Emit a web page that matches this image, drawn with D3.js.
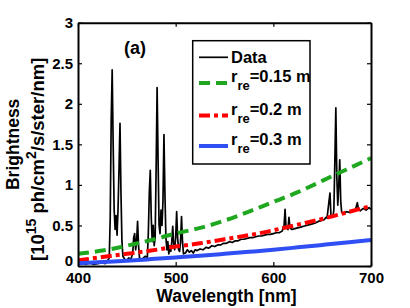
<!DOCTYPE html>
<html>
<head>
<meta charset="utf-8">
<script src="https://cdn.jsdelivr.net/npm/d3@7"></script>
<style>
  body { margin: 0; background: #fff; }
  svg { font-family: "Liberation Sans", Arial, sans-serif; font-weight: bold; }
</style>
</head>
<body>
<div id="chart"></div>
<script>
// measured spectrum (wavelength nm, brightness 1e15 ph/cm^2/s/ster/nm)
const dataWl = [400,404,408,412,416,420,424,428,430,432,433,434,435,436,437,438,439,440,441,442,443,444,445,446,448,450,452,454,456,457,458,459,460,461,462,463,465,467,469,471,472,473,474,475,476,477,478,479,480,481,482,483,484,485,486,487,488,489,490,491,492,493,494,495,496,497,498,499,500,501,502,503,504,505,506,507,508,510,512,514,516,518,520,522,525,528,531,534,537,540,543,546,549,552,555,558,561,564,567,570,573,576,579,582,585,588,591,594,597,600,603,606,609,611,612,613,615,616,617,619,622,625,628,631,634,637,640,643,646,649,652,654,655,657,658,659,661,662,663,664,665,666,667,668,669,670,672,675,678,681,684,686,687,689,692,695,698,700];
const dataVal = [0.02,0.03,0.02,0.04,0.02,0.03,0.04,0.03,0.06,0.1,0.6,1.8,2.42,1.5,0.7,0.45,0.62,0.38,0.7,1.2,1.76,0.9,0.3,0.12,0.08,0.07,0.1,0.08,0.15,0.35,0.4,0.2,0.3,0.55,0.25,0.1,0.08,0.1,0.12,0.1,0.4,0.9,1.18,0.6,0.3,0.5,0.25,0.35,1.2,2.2,1.3,0.5,0.4,0.69,0.5,0.8,1.62,0.9,0.35,0.2,0.3,0.15,0.25,0.18,0.3,0.49,0.25,0.2,0.35,0.67,0.35,0.2,0.18,0.3,0.61,0.3,0.15,0.16,0.2,0.17,0.19,0.16,0.2,0.19,0.21,0.2,0.23,0.22,0.25,0.24,0.26,0.26,0.28,0.28,0.3,0.29,0.31,0.31,0.33,0.33,0.34,0.35,0.35,0.36,0.37,0.37,0.38,0.39,0.39,0.4,0.41,0.41,0.43,0.5,0.7,0.48,0.45,0.6,0.47,0.45,0.46,0.47,0.48,0.49,0.5,0.51,0.52,0.53,0.55,0.56,0.57,0.6,0.59,0.8,0.9,0.62,0.6,0.7,1.3,1.95,1.1,0.75,1.0,1.31,0.8,0.66,0.65,0.67,0.66,0.69,0.69,0.78,0.71,0.68,0.71,0.69,0.72,0.7];

// model curves
const modelWl = [400,425,450,475,500,525,550,575,600,625,650,675,700];
const r015 = [0.15,0.19,0.25,0.32,0.40,0.47,0.56,0.67,0.79,0.91,1.05,1.19,1.33];
const r02  = [0.07,0.11,0.15,0.19,0.24,0.28,0.33,0.38,0.44,0.51,0.58,0.66,0.74];
const r03  = [0.035,0.05,0.065,0.085,0.105,0.125,0.15,0.175,0.2,0.23,0.26,0.29,0.32];

const xTicks = [400, 500, 600, 700];
const yTicks = [0, 0.5, 1, 1.5, 2, 2.5, 3];

const series = [
  { name: '0.15 m', values: r015, color: '#1fa81f', dash: '11,6' },
  { name: '0.2 m', values: r02, color: '#ff0000', dash: '11,4,4,4' },
  { name: '0.3 m', values: r03, color: '#2f4ff5', dash: null }
];

const width = 410, height = 308;
const margin = { top: 22.7, right: 39, bottom: 42, left: 78 };

const svg = d3.select('#chart').append('svg')
  .attr('width', width)
  .attr('height', height);

const x = d3.scaleLinear().domain([400, 700]).range([margin.left, width - margin.right]);
const y = d3.scaleLinear().domain([0, 3]).range([height - margin.bottom, margin.top]);

svg.append('clipPath').attr('id', 'plot')
  .append('rect')
  .attr('x', x(400)).attr('y', y(3))
  .attr('width', x(700) - x(400)).attr('height', y(0) - y(3));

const plot = svg.append('g').attr('clip-path', 'url(#plot)');

// data line
plot.append('path')
  .datum(dataWl.map((w, i) => [w, dataVal[i]]))
  .attr('fill', 'none')
  .attr('stroke', '#000')
  .attr('stroke-width', 1.7)
  .attr('stroke-linejoin', 'round')
  .attr('d', d3.line().x(d => x(d[0])).y(d => y(d[1])));

// model curves
series.forEach(s => {
  plot.append('path')
    .datum(modelWl.map((w, i) => [w, s.values[i]]))
    .attr('fill', 'none')
    .attr('stroke', s.color)
    .attr('stroke-width', 4)
    .attr('stroke-dasharray', s.dash)
    .attr('d', d3.line().curve(d3.curveNatural).x(d => x(d[0])).y(d => y(d[1])));
});

// axes, ticks pointing inward
const styleAxis = g => {
  g.select('.domain').attr('stroke-width', 2);
  g.selectAll('.tick line').attr('stroke-width', 1.2);
  g.selectAll('text').style('font-size', '15px').style('font-weight', 'bold').attr('fill', '#000');
};

svg.append('g')
  .attr('transform', `translate(0,${y(0)})`)
  .call(d3.axisBottom(x).tickValues(xTicks).tickSizeInner(-4).tickSizeOuter(0).tickPadding(6))
  .call(styleAxis);
svg.append('g')
  .attr('transform', `translate(0,${y(3)})`)
  .call(d3.axisTop(x).tickValues(xTicks).tickSizeInner(-4).tickSizeOuter(0).tickFormat(''))
  .call(styleAxis);
svg.append('g')
  .attr('transform', `translate(${x(400)},0)`)
  .call(d3.axisLeft(y).tickValues(yTicks).tickSizeInner(-4).tickSizeOuter(0).tickPadding(5).tickFormat(d3.format('')))
  .call(styleAxis);
svg.append('g')
  .attr('transform', `translate(${x(700)},0)`)
  .call(d3.axisRight(y).tickValues(yTicks).tickSizeInner(-4).tickSizeOuter(0).tickFormat(''))
  .call(styleAxis);

svg.selectAll('.tick text').style('font-family', '"Liberation Sans", Arial, sans-serif');
// lift the "0" label a little so it clears "400"
svg.selectAll('.tick text').filter(d => d === 0).attr('dy', '-0.05em');

// axis labels
svg.append('text')
  .attr('x', (x(400) + x(700)) / 2 + 2)
  .attr('y', 302)
  .attr('text-anchor', 'middle')
  .style('font-size', '17.5px')
  .text('Wavelength [nm]');

const yl = svg.append('g')
  .attr('transform', `translate(19,${(y(0) + y(3)) / 2}) rotate(-90)`);
yl.append('text')
  .attr('text-anchor', 'middle')
  .style('font-size', '17.5px')
  .text('Brightness');
const yl2 = yl.append('text')
  .attr('x', -15)
  .attr('y', 25)
  .attr('text-anchor', 'middle')
  .style('font-size', '18.5px');
yl2.append('tspan').text('[10');
yl2.append('tspan').attr('dy', -8.5).style('font-size', '14px').text('15');
yl2.append('tspan').attr('dy', 8.5).text(' ph/cm');
yl2.append('tspan').attr('dy', -8.5).style('font-size', '14px').text('2');
yl2.append('tspan').attr('dy', 8.5).text('/s/ster/nm]');

// panel label
svg.append('text')
  .attr('x', 124)
  .attr('y', 54)
  .style('font-size', '18px')
  .text('(a)');

// legend
const lg = svg.append('g');
lg.append('rect')
  .attr('x', 192.7).attr('y', 40.7)
  .attr('width', 117.3).attr('height', 123.3)
  .attr('fill', '#fff')
  .attr('stroke', '#000')
  .attr('stroke-width', 1.5);

const legendRows = [{ label: 'Data', color: '#000', dash: null, w: 1.7 }]
  .concat(series.map(s => ({ label: s.name, color: s.color, dash: s.dash, w: 4 })));
const rowY = [57.3, 83, 115.5, 146];

legendRows.forEach((r, i) => {
  lg.append('line')
    .attr('x1', 199).attr('x2', 228)
    .attr('y1', rowY[i]).attr('y2', rowY[i])
    .attr('stroke', r.color)
    .attr('stroke-width', r.w)
    .attr('stroke-dasharray', r.dash);
  const t = lg.append('text')
    .attr('x', 231)
    .style('font-size', '16.5px');
  if (i === 0) {
    t.attr('y', rowY[i] + 5.5).text(r.label);
  } else {
    t.attr('y', rowY[i] - 1);
    t.append('tspan').text('r');
    t.append('tspan').attr('dy', 8).style('font-size', '13px').text('re');
    t.append('tspan').attr('dy', -8).text('=' + r.label);
  }
});
</script>
</body>
</html>
